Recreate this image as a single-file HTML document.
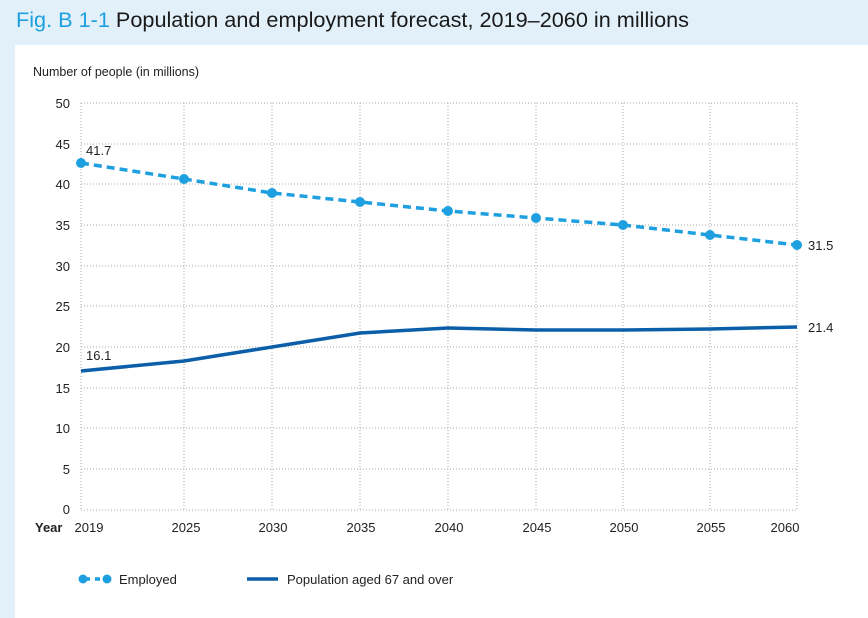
<!DOCTYPE html>
<html><head><style>
body{margin:0;width:868px;height:618px;background:#e2f0fa;font-family:"Liberation Sans",sans-serif;overflow:hidden}
</style></head><body>
<svg width="868" height="618" xmlns="http://www.w3.org/2000/svg" style="position:absolute;left:0;top:0">
<rect x="15" y="45" width="853" height="573" fill="#fff"/>
<text x="16" y="27" font-size="21" fill="#1a1a1a" textLength="673" lengthAdjust="spacingAndGlyphs" font-family="Liberation Sans, sans-serif"><tspan fill="#1ea0e0">Fig. B 1-1</tspan> Population and employment forecast, 2019–2060 in millions</text>
<text x="33" y="76" font-size="12.5" fill="#222">Number of people (in millions)</text>
<g stroke="#aaa" stroke-width="1" stroke-dasharray="1,2" fill="none">
<line x1="81" y1="103" x2="797" y2="103"/><line x1="81" y1="144" x2="797" y2="144"/><line x1="81" y1="184" x2="797" y2="184"/><line x1="81" y1="225" x2="797" y2="225"/><line x1="81" y1="266" x2="797" y2="266"/><line x1="81" y1="306" x2="797" y2="306"/><line x1="81" y1="347" x2="797" y2="347"/><line x1="81" y1="388" x2="797" y2="388"/><line x1="81" y1="428" x2="797" y2="428"/><line x1="81" y1="469" x2="797" y2="469"/><line x1="81" y1="510" x2="797" y2="510"/>
<line x1="81" y1="103" x2="81" y2="510"/><line x1="184" y1="103" x2="184" y2="510"/><line x1="272" y1="103" x2="272" y2="510"/><line x1="360" y1="103" x2="360" y2="510"/><line x1="448" y1="103" x2="448" y2="510"/><line x1="536" y1="103" x2="536" y2="510"/><line x1="623" y1="103" x2="623" y2="510"/><line x1="710" y1="103" x2="710" y2="510"/><line x1="797" y1="103" x2="797" y2="510"/>
</g>
<g font-size="13" fill="#222" text-anchor="end">
<text x="70" y="108">50</text><text x="70" y="149">45</text><text x="70" y="189">40</text><text x="70" y="230">35</text><text x="70" y="271">30</text><text x="70" y="311">25</text><text x="70" y="352">20</text><text x="70" y="393">15</text><text x="70" y="433">10</text><text x="70" y="474">5</text><text x="70" y="514">0</text>
</g>
<g font-size="13" fill="#222" text-anchor="middle">
<text x="89" y="532">2019</text><text x="186" y="532">2025</text><text x="273" y="532">2030</text><text x="361" y="532">2035</text><text x="449" y="532">2040</text><text x="537" y="532">2045</text><text x="624" y="532">2050</text><text x="711" y="532">2055</text><text x="785" y="532">2060</text>
</g>
<text x="35" y="532" font-size="13" font-weight="bold" fill="#222">Year</text>
<polyline points="81,371 184,361 272,347 360,333 448,328 536,330 623,330 710,329 797,327" fill="none" stroke="#0b5ea8" stroke-width="3.5"/>
<polyline points="81,163 184,179 272,193 360,202 448,211 536,218 623,225 710,235 797,245" fill="none" stroke="#1ea0e0" stroke-width="3.5" stroke-dasharray="8,5"/>
<g fill="#1ea0e0">
<circle cx="81" cy="163" r="5"/><circle cx="184" cy="179" r="5"/><circle cx="272" cy="193" r="5"/><circle cx="360" cy="202" r="5"/><circle cx="448" cy="211" r="5"/><circle cx="536" cy="218" r="5"/><circle cx="623" cy="225" r="5"/><circle cx="710" cy="235" r="5"/><circle cx="797" cy="245" r="5"/>
</g>
<g font-size="13" fill="#222">
<text x="86" y="155">41.7</text><text x="86" y="360">16.1</text><text x="808" y="250">31.5</text><text x="808" y="332">21.4</text>
</g>
<line x1="83" y1="579" x2="107" y2="579" stroke="#1ea0e0" stroke-width="3.5" stroke-dasharray="5,5" stroke-dashoffset="-2"/>
<circle cx="83" cy="579" r="4.5" fill="#1ea0e0"/><circle cx="107" cy="579" r="4.5" fill="#1ea0e0"/>
<text x="119" y="584" font-size="13" fill="#222">Employed</text>
<line x1="247" y1="579" x2="278" y2="579" stroke="#0b5ea8" stroke-width="3.5"/>
<text x="287" y="584" font-size="13" fill="#222">Population aged 67 and over</text>
</svg>
</body></html>
